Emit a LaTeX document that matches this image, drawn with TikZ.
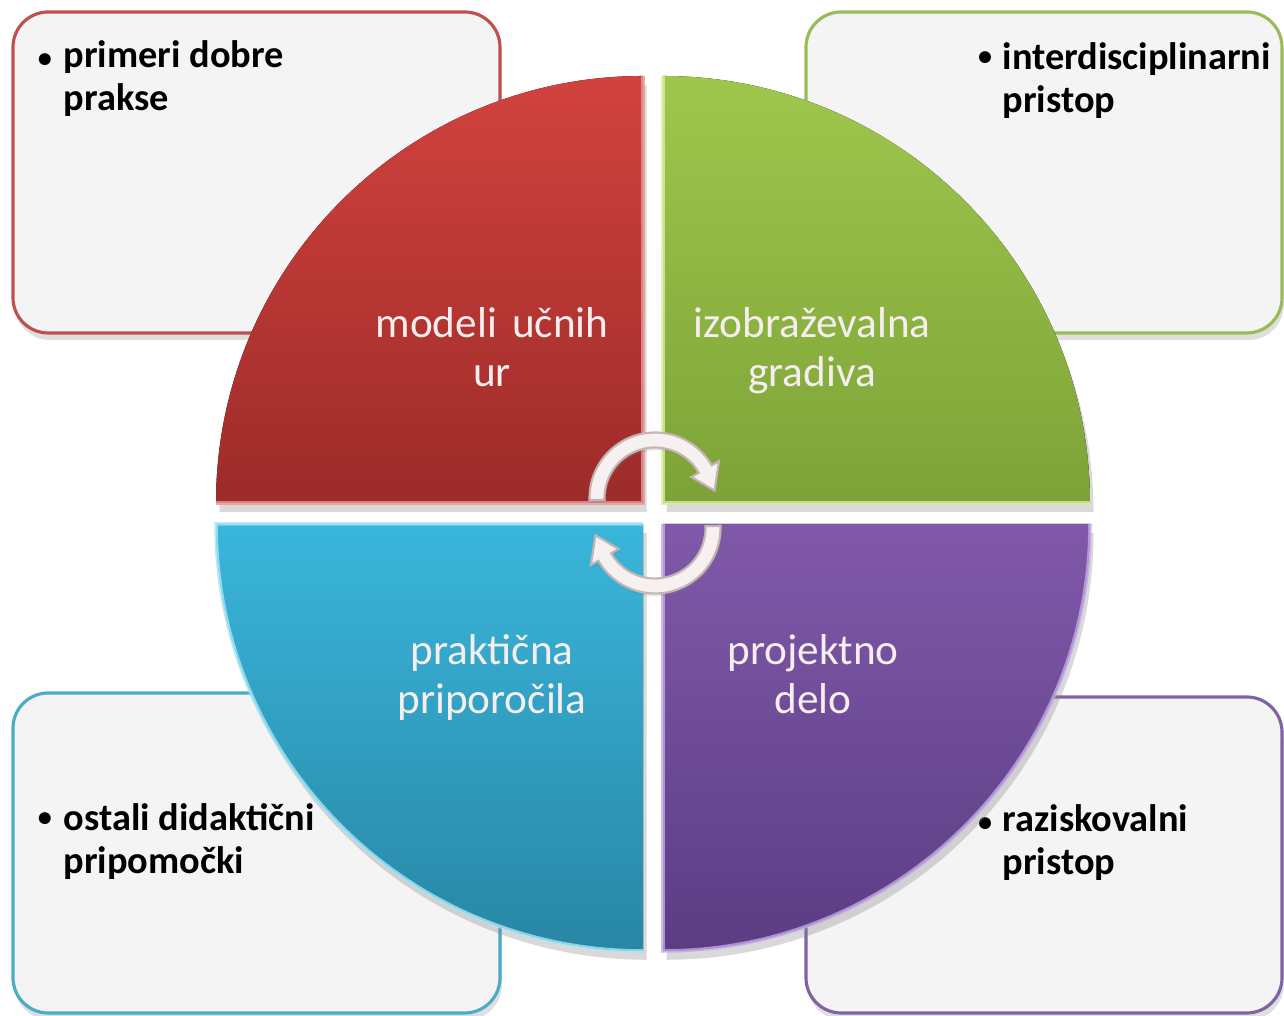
\documentclass[tikz,border=0pt]{standalone}
\usepackage{fontspec}
\setmainfont{Carlito}
\usetikzlibrary{shadows}
\definecolor{boxfill}{HTML}{F4F4F4}
\definecolor{redline}{HTML}{C0504D}
\definecolor{greenline}{HTML}{9BBB59}
\definecolor{blueline}{HTML}{4BACC6}
\definecolor{purpleline}{HTML}{8064A2}
\definecolor{redtop}{HTML}{D2423E}
\definecolor{redbot}{HTML}{9C2B29}
\definecolor{redrim}{HTML}{E89A98}
\definecolor{greentop}{HTML}{9FC64C}
\definecolor{greenbot}{HTML}{7DA338}
\definecolor{greenrim}{HTML}{D6EFA0}
\definecolor{bluetop}{HTML}{3AB6DB}
\definecolor{bluebot}{HTML}{2886A5}
\definecolor{bluerim}{HTML}{A8E6F6}
\definecolor{purpletop}{HTML}{8059A9}
\definecolor{purplebot}{HTML}{5B3D84}
\definecolor{purplerim}{HTML}{C2A8E6}
\definecolor{qtextcol}{HTML}{F6EEEE}
\definecolor{arrowfill}{HTML}{F7F0F0}
\definecolor{arrowline}{HTML}{C4B4B4}
\tikzset{
  infobox/.style={rounded corners=10pt, fill=boxfill, line width=0.9pt,
    drop shadow={shadow xshift=0.5pt, shadow yshift=-2pt, opacity=0.25}},
  quarter/.style={drop shadow={shadow xshift=1pt, shadow yshift=-2.5pt, opacity=0.3}},
  rim/.style={line width=1pt, opacity=0.8},
  boxtext/.style={font=\fontsize{10.9}{12.4}\selectfont\bfseries, anchor=base west, align=left, inner sep=0pt},
  bul/.style={font=\fontsize{8}{10}\selectfont\bfseries, anchor=base, inner sep=0pt},
  qtext/.style={font=\fontsize{12.3}{14.2}\selectfont, text=qtextcol, align=center, anchor=base, inner sep=0pt},
  cyclearrow/.style={fill=arrowfill, draw=arrowline, line width=0.6pt,
    drop shadow={shadow xshift=0.4pt, shadow yshift=-0.8pt, opacity=0.2}}
}
\begin{document}
\begin{tikzpicture}[x=0.01cm,y=0.01cm]
\useasboundingbox (0,0) rectangle (1284,1016);

% side boxes
\draw[infobox, draw=redline]    (13,683) rectangle (500,1004);
\draw[infobox, draw=greenline]  (806,683) rectangle (1282,1004);
\draw[infobox, draw=blueline]   (13,3) rectangle (500,323);
\draw[infobox, draw=purpleline] (806,3) rectangle (1282,319);

% multi-line nodes: anchor base = baseline of last line
\node[bul] (b1) at (45,948) {•};
\node[boxtext] (t1) at (63,905) {primeri dobre\\prakse};
\node[bul] (b2) at (985,950) {•};
\node[boxtext] (t2) at (1002,903) {interdisciplinarni\\pristop};
\node[bul] (b3) at (45,189) {•};
\node[boxtext] (t3) at (63,142) {ostali didaktični\\pripomočki};
\node[bul] (b4) at (985,184) {•};
\node[boxtext] (t4) at (1002,141) {raziskovalni\\pristop};

% quadrants
\fill[quarter, top color=redtop, bottom color=redbot]
  (643,513) -- (216,513) arc[start angle=180, end angle=90, radius=427] -- cycle;
\draw[rim, draw=redrim] (643,940) -- (643,513) -- (216,513);
\fill[quarter, top color=greentop, bottom color=greenbot]
  (663,513) -- (663,940) arc[start angle=90, end angle=0, radius=427] -- cycle;
\draw[rim, draw=greenrim] (663,940) -- (663,513) -- (1090,513);
\fill[quarter, top color=bluetop, bottom color=bluebot]
  (643,492) -- (643,65) arc[start angle=270, end angle=180, radius=427] -- cycle;
\draw[rim, draw=bluerim] (643,492) -- (216,492) arc[start angle=180, end angle=270, radius=427];
\fill[quarter, top color=purpletop, bottom color=purplebot]
  (663,492) -- (1090,492) arc[start angle=0, end angle=-90, radius=427] -- cycle;
\draw[rim, draw=purplerim] (1090,492) arc[start angle=0, end angle=-90, radius=427] -- (663,492);

\node[qtext] (q1) at (492,629) {modeli\hspace{0.35em}učnih\\ur};
\node[qtext] (q2) at (812,629) {izobraževalna\\gradiva};
\node[qtext] (q3) at (492,302) {praktična\\priporočila};
\node[qtext] (q4) at (813,302) {projektno\\delo};

% cycle arrows
\begin{scope}[shift={(655,518)}]
  \path[cyclearrow] (182:65.5) arc[start angle=182, end angle=30, radius=65.5]
    -- (30:74) -- (7:60) -- (30:42) -- (30:50.5)
    arc[start angle=30, end angle=182, radius=50.5] -- cycle;
\end{scope}
\begin{scope}[shift={(655,488)}, rotate=180]
  \path[cyclearrow] (182:65.5) arc[start angle=182, end angle=30, radius=65.5]
    -- (30:74) -- (7:60) -- (30:42) -- (30:50.5)
    arc[start angle=30, end angle=182, radius=50.5] -- cycle;
\end{scope}
\end{tikzpicture}
\end{document}
